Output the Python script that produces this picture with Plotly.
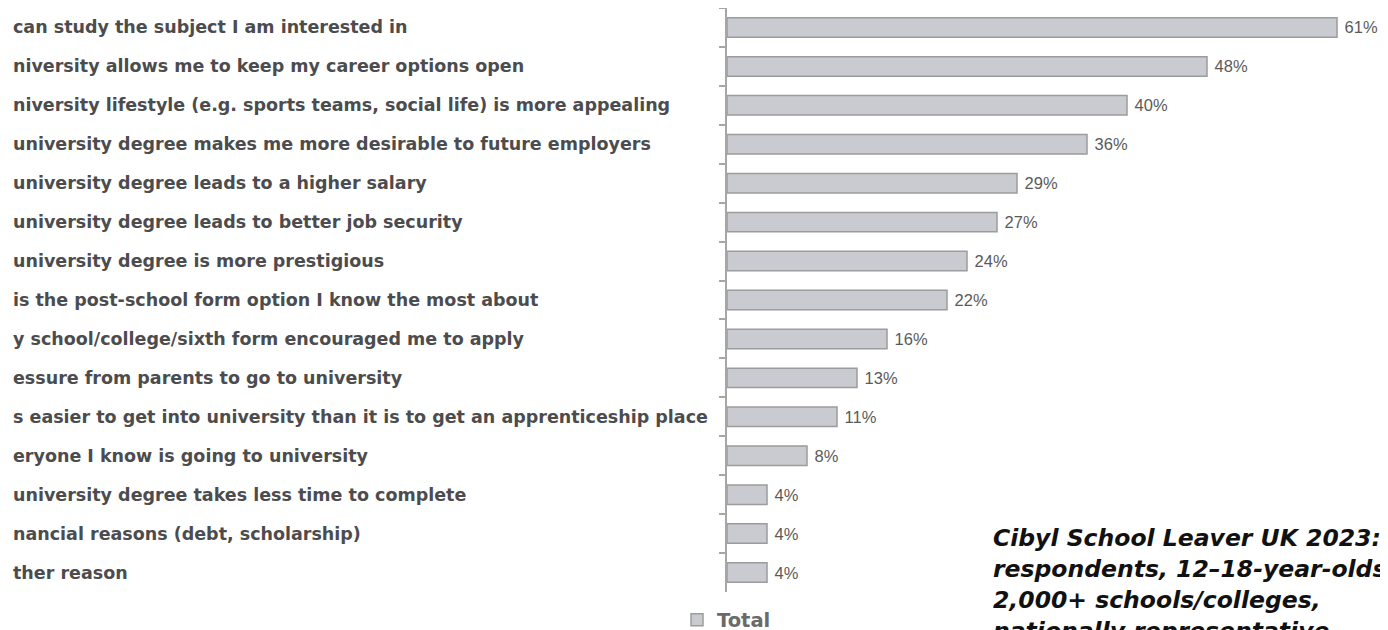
import plotly.graph_objects as go

categories = [
    "can study the subject I am interested in",
    "niversity allows me to keep my career options open",
    "niversity lifestyle (e.g. sports teams, social life) is more appealing",
    "university degree makes me more desirable to future employers",
    "university degree leads to a higher salary",
    "university degree leads to better job security",
    "university degree is more prestigious",
    "is the post-school form option I know the most about",
    "y school/college/sixth form encouraged me to apply",
    "essure from parents to go to university",
    "s easier to get into university than it is to get an apprenticeship place",
    "eryone I know is going to university",
    "university degree takes less time to complete",
    "nancial reasons (debt, scholarship)",
    "ther reason",
]
values = [61, 48, 40, 36, 29, 27, 24, 22, 16, 13, 11, 8, 4, 4, 4]
value_labels = ["61%", "48%", "40%", "36%", "29%", "27%", "24%", "22%",
                "16%", "13%", "11%", "8%", "4%", "4%", "4%"]
series_name = "Total"
source_lines = [
    "Cibyl School Leaver UK 2023:",
    "respondents, 12–18-year-olds",
    "2,000+ schools/colleges,",
    "nationally representative",
]

W, H = 1388, 630
ML, MR, MT, MB = 719, 1, 0, 46
PW = W - ML - MR
PH = H - MT - MB


def px_x(px):
    return (px - ML) / PW


def px_y(px):
    return (H - MB - px) / PH


fig = go.Figure()
fig.add_trace(go.Bar(
    x=values, y=categories, orientation="h", name=series_name,
    width=0.5,
    marker=dict(color="#c9cbd0", line=dict(color="#9c9c9c", width=1.5)),
    text=[" " + t for t in value_labels], textposition="outside",
    textfont=dict(family="Liberation Sans", size=16.5, color="#5a5a5a"),
    cliponaxis=False, showlegend=True,
))

annotations = []
for c in categories:
    annotations.append(dict(
        text=c, xref="paper", yref="y", x=px_x(3), y=c,
        xanchor="left", yanchor="middle", showarrow=False,
        font=dict(family="DejaVu Sans", size=17.5, color="#4c4c4e", weight="bold"),
    ))
line_tops = [514, 545, 575.5, 606.5]
for line, top in zip(source_lines, line_tops):
    annotations.append(dict(
        text=line, xref="paper", yref="paper",
        x=px_x(983), y=px_y(top), xanchor="left", yanchor="top",
        align="left", showarrow=False,
        font=dict(family="DejaVu Sans", size=23.5, color="#111111",
                  weight="bold", style="italic"),
    ))

fig.update_layout(
    width=W, height=H,
    margin=dict(l=ML, r=MR, t=MT, b=MB),
    plot_bgcolor="white", paper_bgcolor="white",
    xaxis=dict(range=[0, PW / 10], visible=False),
    yaxis=dict(autorange="reversed", showticklabels=False, showline=True,
               linecolor="#a6a6a6", linewidth=1.5, ticks="outside", ticklen=6,
               tickcolor="#a6a6a6", tickwidth=1.5, tickson="boundaries",
               showgrid=False, zeroline=False),
    showlegend=True,
    legend=dict(orientation="h", xref="container", yref="container",
                x=669 / W, y=1 - 612 / H,
                xanchor="left", yanchor="middle",
                font=dict(family="DejaVu Sans", size=19.5, color="#6a6a6a", weight="bold")),
    annotations=annotations,
)

fig.write_html("out.html")
